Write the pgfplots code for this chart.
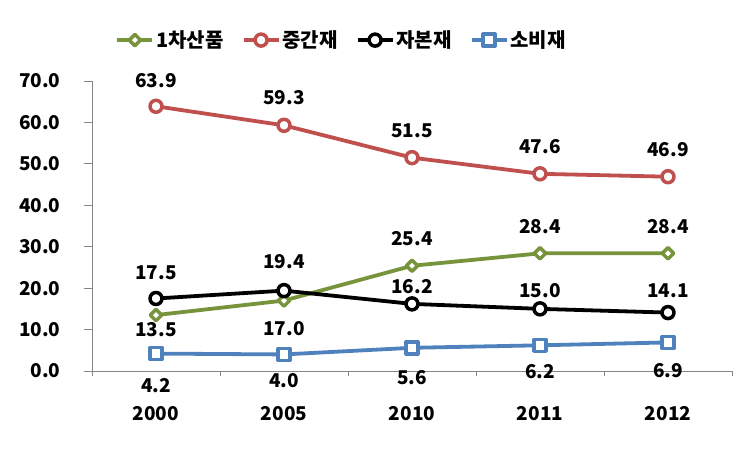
\documentclass[border=0pt]{standalone}
\usepackage{fontspec}
\setmainfont{Noto Sans CJK KR}
\usepackage{pgfplots}
\pgfplotsset{compat=1.18}
\usepackage{pgfplotstable}
\definecolor{cgreen}{RGB}{119,147,60}
\definecolor{cred}{RGB}{192,80,77}
\definecolor{cblue}{RGB}{79,129,189}
\definecolor{caxis}{RGB}{134,134,134}
\newcommand{\lf}{\bfseries\fontsize{19bp}{21bp}\selectfont}
\newcommand{\legf}{\bfseries\fontsize{20bp}{22bp}\selectfont}

\pgfplotstableread{
x y dy
0 13.5 -15
1 17.0 -28
2 25.4 27
3 28.4 27
4 28.4 27
}\tgreen
\pgfplotstableread{
x y dy
0 63.9 26
1 59.3 28
2 51.5 27
3 47.6 27
4 46.9 27
}\tred
\pgfplotstableread{
x y dy
0 17.5 26
1 19.4 29
2 16.2 17
3 15.0 18
4 14.1 22
}\tblack
\pgfplotstableread{
x y dy
0 4.2 -32
1 4.0 -26
2 5.6 -30
3 6.2 -26
4 6.9 -28
}\tblue

\begin{document}
\begin{tikzpicture}
\useasboundingbox (-92bp,-81bp) rectangle (660bp,371bp);
\begin{axis}[
  at={(0,0)}, anchor=south west,
  scale only axis, width=640bp, height=290bp,
  xmin=-0.5, xmax=4.5, ymin=0, ymax=70,
  axis lines*=left,
  axis line style={caxis, line width=0.8bp},
  xtick={0,...,4}, xticklabels={2000,2005,2010,2011,2012},
  major x tick style={draw=none},
  minor xtick={-0.5,0.5,...,4.5},
  ytick={0,10,...,70},
  tick align=outside, major tick length=8bp, minor tick length=5bp,
  tick style={caxis, line width=0.8bp},
  /pgf/number format/fixed,
  /pgf/number format/fixed zerofill,
  /pgf/number format/precision=1,
  /pgf/number format/assume math mode=true,
  ticklabel style={font=\lf, text=black},
  xticklabel style={yshift=-24bp},
  yticklabel style={xshift=-20bp},
  clip=false,
  legend style={at={(0.39,1.141)}, anchor=center, draw=none, fill=none,
    legend columns=4, font=\legf,
    /tikz/every even column/.append style={column sep=16bp}},
  legend image code/.code={\draw[mark repeat=2,mark phase=2] plot coordinates {(0bp,0bp) (17.5bp,0bp) (35bp,0bp)};},
  nodes near coords,
]
\addplot[cgreen, line width=3.8bp, line join=round, mark=square*, mark size=4bp, mark options={solid, fill=white, line width=3.5bp, rotate=45},
  visualization depends on={\thisrow{dy} \as \dy},
  every node near coord/.append style={anchor=center, yshift=\dy*1bp, text=black, font=\lf}]
  table[x=x,y=y] {\tgreen};
\addlegendentry{1차산품}
\addplot[cred, line width=3.8bp, line join=round, mark=*, mark size=6bp, mark options={solid, fill=white, line width=3.5bp},
  visualization depends on={\thisrow{dy} \as \dy},
  every node near coord/.append style={anchor=center, yshift=\dy*1bp, text=black, font=\lf}]
  table[x=x,y=y] {\tred};
\addlegendentry{중간재}
\addplot[black, line width=3.8bp, line join=round, mark=*, mark size=6bp, mark options={solid, fill=white, line width=3.5bp},
  visualization depends on={\thisrow{dy} \as \dy},
  every node near coord/.append style={anchor=center, yshift=\dy*1bp, text=black, font=\lf}]
  table[x=x,y=y] {\tblack};
\addlegendentry{자본재}
\addplot[cblue, line width=3.8bp, line join=round, mark=square*, mark size=6bp, mark options={solid, fill=white, line width=3.5bp},
  visualization depends on={\thisrow{dy} \as \dy},
  every node near coord/.append style={anchor=center, yshift=\dy*1bp, text=black, font=\lf}]
  table[x=x,y=y] {\tblue};
\addlegendentry{소비재}
\end{axis}
\end{tikzpicture}
\end{document}
